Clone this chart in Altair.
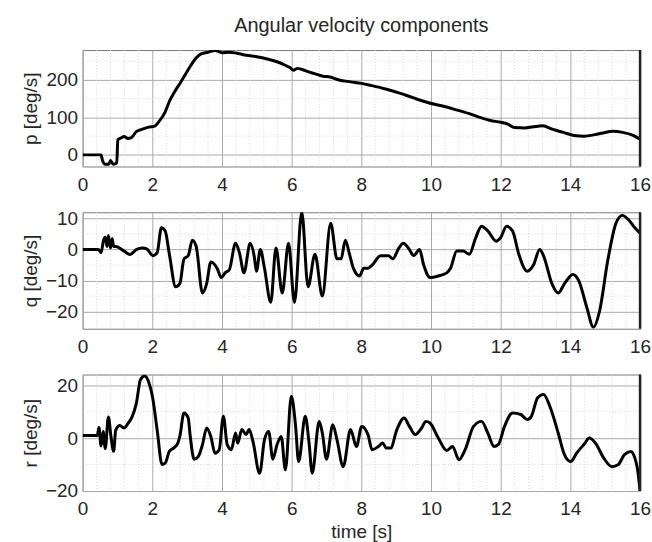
import altair as alt
import pandas as pd

# ---- data ----
t_p = [0, 0.3, 0.53, 0.57, 0.65, 0.75, 0.8, 0.88, 0.98, 1.01, 1.1, 1.19, 1.3, 1.4, 1.54, 1.7, 1.9, 2.05, 2.2, 2.37,
       2.5, 2.65, 2.8, 2.95, 3.1, 3.25, 3.4, 3.6, 3.8, 4.0, 4.2, 4.4, 4.7, 5.0, 5.3, 5.6, 5.8, 5.95, 6.05, 6.17,
       6.3, 6.45, 6.65, 6.9, 7.1, 7.36, 7.7, 8.0, 8.3, 8.7, 9.1, 9.5, 9.9, 10.3, 10.7, 11.1, 11.4, 11.7, 12.0, 12.2,
       12.4, 12.7, 13.0, 13.2, 13.5, 13.8, 14.1, 14.4, 14.7, 15.0, 15.2, 15.5, 15.8, 16.0]
p_vals = [0, 0, 0, -15, -25, -25, -15, -25, -22, 40, 45, 49, 44, 46, 62, 68, 74, 76, 90, 115,
          145, 170, 192, 215, 238, 258, 270, 274, 279, 273, 274, 272, 266, 262, 256, 248, 240, 233, 226, 231,
          228, 223, 217, 210, 208, 200, 195, 191, 185, 176, 165, 152, 140, 131, 121, 110, 100, 92, 87, 82,
          73, 72, 76, 78, 68, 60, 52, 50, 54, 60, 63, 60, 52, 42]

t_q = [0, 0.45, 0.53, 0.6, 0.65, 0.7, 0.74, 0.8, 0.85, 0.89, 0.95, 1.19, 1.36, 1.54, 1.72, 1.84, 2.02, 2.14, 2.26, 2.37,
       2.49, 2.67, 2.79, 2.91, 3.03, 3.15, 3.26, 3.44, 3.56, 3.68, 3.86, 3.98, 4.09, 4.21, 4.39, 4.51, 4.63, 4.81, 4.93, 4.99,
       5.10, 5.22, 5.40, 5.55, 5.73, 5.91, 6.08, 6.29, 6.47, 6.67, 6.88, 7.12, 7.30, 7.42, 7.54, 7.66, 7.77, 7.95, 8.07, 8.19,
       8.31, 8.55, 8.78, 8.90, 9.08, 9.20, 9.38, 9.50, 9.67, 9.79, 9.97, 10.21, 10.45, 10.56, 10.74, 10.92, 11.10, 11.28, 11.45, 11.63,
       11.87, 11.99, 12.17, 12.34, 12.52, 12.76, 12.94, 13.12, 13.23, 13.47, 13.65, 13.83, 14.07, 14.24, 14.48, 14.66, 14.84, 15.07, 15.31, 15.49,
       15.67, 15.85, 16.0]
q_vals = [0, 0, -1, 3, 4, 1, 4.5, 0.5, 3.5, 1, 1, -0.5, -1.6, 0, 0.5, 0.2, -2, -1, 7, 6,
          -1.5, -12, -11, -3, -2, 3, 1, -14, -11, -4, -6, -9, -7.5, -6.5, 2, -1.5, -7.5, 2, -2.5, -7,
          0, -6, -17, 0.5, -14, 2, -17, 12, -12, -1.5, -15, 8.5, -3, -3, 3, -1.5, -6, -8.5, -6, -6,
          -5, -2, -2, -3, 0.5, 2, 0, -2, 0, -5, -9, -8.5, -7.5, -6, -0.5, -0.5, -1.5, 3.7, 7.5, 6,
          2.7, 3.7, 7.5, 6, -1.5, -7, -5, 0, -2, -11, -14, -11, -8, -10, -19, -25, -19.7, -3.7, 8.5, 11,
          9.6, 7, 5.3]

t_r = [0, 0.42, 0.47, 0.53, 0.59, 0.65, 0.74, 0.81, 0.89, 0.95, 1.07, 1.19, 1.31, 1.42, 1.54, 1.66, 1.78, 1.90, 2.02, 2.14,
       2.28, 2.37, 2.49, 2.61, 2.73, 2.79, 2.91, 3.03, 3.09, 3.20, 3.32, 3.44, 3.56, 3.68, 3.80, 3.92, 4.04, 4.15, 4.27, 4.39,
       4.45, 4.57, 4.69, 4.78, 4.89, 5.08, 5.22, 5.34, 5.46, 5.58, 5.70, 5.82, 5.99, 6.11, 6.20, 6.39, 6.50, 6.59, 6.79, 6.88,
       7.00, 7.18, 7.30, 7.48, 7.69, 7.86, 8.01, 8.19, 8.31, 8.49, 8.61, 8.72, 8.84, 9.02, 9.23, 9.38, 9.55, 9.73, 9.85, 9.97,
       10.21, 10.45, 10.62, 10.80, 10.98, 11.22, 11.45, 11.63, 11.81, 11.93, 12.11, 12.34, 12.58, 12.76, 12.88, 13.06, 13.23, 13.41, 13.65, 13.83,
       14.01, 14.18, 14.42, 14.54, 14.72, 14.96, 15.19, 15.37, 15.55, 15.73, 15.85, 15.93, 16.0]
r_vals = [1, 1, 4, -3, 2.5, -4, 8, 1, -5, 3, 4.7, 3.8, 5.7, 8, 13, 22, 23.4, 21, 14.5, 3,
          -10, -9.5, -5, -3.8, -2, 0.6, 9.5, 7.6, 0.6, -8, -7, -2.5, 3.8, 0.6, -5.7, -4.4, 8.2, -2.5, -4.4, 1.9,
          -1.9, 3.2, 1.3, 3.2, -1.3, -13.3, -0.6, 2.5, -8, -2.5, 0.6, -12, 15.8, 5, -8.9, 8.2, -1.9, -13.3, 6.3, 1.9,
          -8, 5, -0.6, -10.8, 3.2, -3.2, 4.4, 1.3, -4.4, -3.2, -1.9, -3.8, -3.8, 3.2, 7.6, 4.4, 1.3, 3.8, 6.3, 5.7,
          0, -4.7, -3.2, -8.2, -4.4, 4.4, 6.3, 1.9, -3.2, -2.5, 4.4, 9.5, 8.9, 7, 8.2, 15.2, 16.5, 12, 1.9, -6.3,
          -8.9, -5.7, -1.9, 0, -1.9, -7.6, -10.8, -10.1, -6.3, -5.1, -7.5, -12, -20]

# ticks
x_ticks = [0, 2, 4, 6, 8, 10, 12, 14, 16]
x_minor = [0.4, 0.8, 1.2, 1.6, 2.4, 2.8, 3.2, 3.6, 4.4, 4.8, 5.2, 5.6, 6.4, 6.8, 7.2, 7.6,
           8.4, 8.8, 9.2, 9.6, 10.4, 10.8, 11.2, 11.6, 12.4, 12.8, 13.2, 13.6, 14.4, 14.8, 15.2, 15.6]
p_ticks = [0, 100, 200]
p_minor = [50, 150, 250]
q_ticks = [-20, -10, 0, 10]
q_minor = [-15, -5, 5]
r_ticks = [-20, 0, 20]
r_minor = [-10, 10]

FONT = "Liberation Sans"
FS = 19
W, H = 560, 117
MAJOR = "#a9a9a9"
MINOR = "#d9d9d9"
TXT = "#262626"


def panel(t, v, ydomain, yticks, yminor, ytitle, xtitle=None, title=None):
    df = pd.DataFrame({"t": t, "v": v})
    xs = alt.Scale(domain=[0, 16], nice=False, zero=False)
    ys = alt.Scale(domain=ydomain, nice=False, zero=False)

    xaxis = alt.Axis(values=x_ticks, format="d", grid=True, gridColor=MAJOR, gridWidth=1,
                     ticks=False, domain=False, labelFont=FONT, labelFontSize=FS,
                     labelColor=TXT, labelPadding=9, labelFlush=False,
                     titleFont=FONT, titleFontSize=FS, titleFontWeight="normal",
                     titleColor=TXT, titlePadding=4)
    yaxis = alt.Axis(values=yticks, format="d", grid=True, gridColor=MAJOR, gridWidth=1,
                     ticks=False, domain=False, labelFont=FONT, labelFontSize=FS,
                     labelColor=TXT, labelPadding=5, labelFlush=False,
                     titleFont=FONT, titleFontSize=FS, titleFontWeight="normal",
                     titleColor=TXT, titleAngle=270, titleX=-52, titleY=H / 2,
                     titleAlign="center", titleBaseline="middle")

    xminor = alt.Chart(pd.DataFrame({"m": x_minor})).mark_rule(
        color=MINOR, strokeWidth=1, strokeDash=[1, 2]
    ).encode(x=alt.X("m:Q", scale=xs, axis=xaxis, title=xtitle))
    yminor_l = alt.Chart(pd.DataFrame({"m": yminor})).mark_rule(
        color=MINOR, strokeWidth=1, strokeDash=[1, 2]
    ).encode(y=alt.Y("m:Q", scale=ys, axis=yaxis, title=ytitle))
    line = alt.Chart(df).mark_line(color="black", strokeWidth=3, interpolate="monotone",
                                   clip=True).encode(
        x=alt.X("t:Q", scale=xs, axis=xaxis, title=xtitle),
        y=alt.Y("v:Q", scale=ys, axis=yaxis, title=ytitle),
    )
    edge = alt.Chart(pd.DataFrame({"e": [16]})).mark_rule(
        color="#222222", strokeWidth=2.5
    ).encode(x=alt.X("e:Q", scale=xs, axis=xaxis, title=xtitle))

    ch = alt.layer(xminor, yminor_l, line, edge).properties(width=W, height=H)
    if title is not None:
        ch = ch.properties(title=alt.TitleParams(title, font=FONT, fontSize=20,
                                                 fontWeight="normal", color=TXT,
                                                 anchor="middle", offset=13))
    return ch


c1 = panel(t_p, p_vals, [-31, 280], p_ticks, p_minor, "p [deg/s]",
           title="Angular velocity components")
c2 = panel(t_q, q_vals, [-25.5, 12], q_ticks, q_minor, "q [deg/s]")
c3 = panel(t_r, r_vals, [-20, 24], r_ticks, r_minor, "r [deg/s]", xtitle="time [s]")

chart = alt.vconcat(c1, c2, c3, spacing=46, bounds="flush").properties(
    padding={"left": 21, "top": 14, "right": 0, "bottom": 0},
    background="white",
).configure_view(stroke="#7a7a7a", strokeWidth=1)

chart.save("out.html", embed_options={"renderer": "svg", "actions": False})
